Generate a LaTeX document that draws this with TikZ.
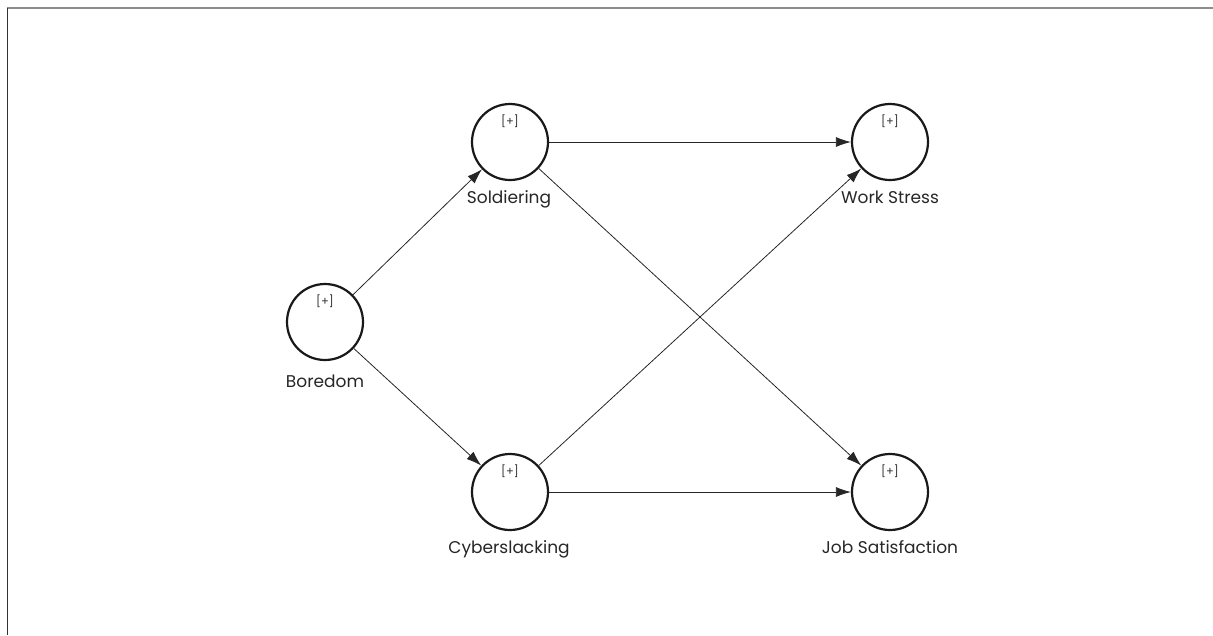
\documentclass[tikz,border=0pt]{standalone}
\usepackage{fontspec}
\setmainfont{Poppins}
\usetikzlibrary{arrows.meta}
\begin{document}
\begin{tikzpicture}[x=1pt,y=-1pt,
  lv/.style={circle,draw=black!90,line width=2.2pt,minimum size=76pt,inner sep=0pt},
  lbl/.style={anchor=base,font=\fontsize{17}{19}\selectfont,text=black!85},
  plus/.style={font=\fontsize{11.5}{13}\selectfont,text=black!80},
  conn/.style={draw=black!85,line width=0.8pt,-{Latex[length=15pt,width=10pt]}}]
\useasboundingbox (0,0) rectangle (1213,635);
\draw[gray!90,line width=1.6pt] (7,8) -- (1213,8);
\draw[black!80,line width=1pt] (7,8) -- (7,635);
\node[lv] (bor) at (325,322) {};
\node[lv] (sol) at (510,142) {};
\node[lv] (cyb) at (510,492) {};
\node[lv] (ws) at (890,142) {};
\node[lv] (js) at (890,492) {};
\foreach \n in {bor,sol,cyb,ws,js}{\node[plus] at ([yshift=21pt]\n.center) {[+]};}
\node[lbl] (lbor) at (325,387) {Boredom};
\node[lbl] (lsol) at (509,203) {Soldiering};
\node[lbl] (lws) at (890,203) {Work Stress};
\node[lbl] (lcyb) at (509,553) {Cyberslacking};
\node[lbl] (ljs) at (890,553) {Job Satisfaction};
\draw[conn] (bor) -- (sol);
\draw[conn] (bor) -- (cyb);
\draw[conn] (sol) -- (ws);
\draw[conn] (sol) -- (js);
\draw[conn] (cyb) -- (ws);
\draw[conn] (cyb) -- (js);
\end{tikzpicture}
\end{document}
